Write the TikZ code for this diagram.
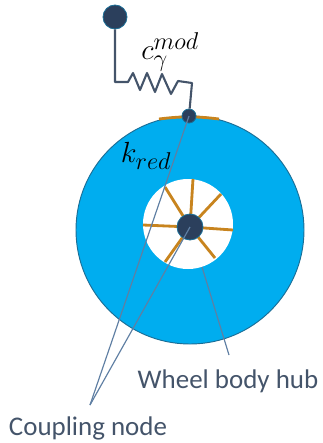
\documentclass[tikz,border=0pt]{standalone}
\usepackage{fontspec}
\setmainfont{Carlito}
\definecolor{wheelblue}{HTML}{00ADEF}
\definecolor{rimblue}{HTML}{1B6E96}
\definecolor{nodedark}{HTML}{2B3F5C}
\definecolor{spokeorange}{HTML}{C8841E}
\definecolor{leadergray}{HTML}{5F7FA3}
\definecolor{labelgray}{HTML}{44546A}
\begin{document}
\begin{tikzpicture}[x=0.03cm, y=-0.03cm, line width=1pt,
    dofnode/.style={circle, draw=rimblue, fill=nodedark, line width=0.7pt, inner sep=0pt},
    spoke/.style={draw=spokeorange, line width=2.4pt},
    leader/.style={draw=leadergray, line width=1pt},
    wirelabel/.style={text=labelgray, font=\fontsize{23pt}{25pt}\selectfont}]

    \useasboundingbox (0, 0) rectangle (322, 443);

    % ==========================================
    % 1. Wheel body and hub opening
    % ==========================================
    \node[circle, draw=rimblue, fill=wheelblue, line width=0.8pt, minimum size=6.84cm, inner sep=0pt] (wheel) at (190, 230) {};
    \node[circle, fill=white, minimum size=2.7cm, inner sep=0pt] (hubhole) at (188, 224) {};

    % ==========================================
    % 2. Spokes and patch on the rim
    % ==========================================
    \coordinate (hubcentre) at (190, 227);
    \foreach \sx / \sy in {193/179, 221/194, 233/230, 215/258, 165/262, 143/225, 165/187}{
        \draw[spoke] (hubcentre) -- (\sx, \sy);
    }
    \draw[spoke] (159, 119) to[bend left=7] (219, 119);

    % ==========================================
    % 3. Leader lines
    % ==========================================
    \coordinate (couplingtip) at (90, 405);
    \coordinate (hubtip) at (229, 355);
    \coordinate (hubedge) at (202, 267);
    \node[dofnode, minimum size=0.78cm] (hubnode) at (hubcentre) {};
    \node[dofnode, minimum size=0.42cm] (rimnode) at (189, 116) {};
    \draw[leader] (couplingtip) -- (rimnode.center);
    \draw[leader] (couplingtip) -- (hubnode.center);
    \draw[leader] (hubtip) -- (hubedge);

    % ==========================================
    % 4. Spring with the fixed node
    % ==========================================
    \node[dofnode, minimum size=0.72cm] (fixnode) at (115, 17) {};
    \draw[draw=labelgray, line width=1.8pt, line join=round] (fixnode) -- (115, 82) -- (128, 82) -- (133, 73) -- (140, 90) -- (147, 73) -- (155, 92) -- (162, 74) -- (171, 94) -- (178, 81) -- (192, 83) -- (rimnode);

    % ==========================================
    % 5. Labels
    % ==========================================
    \node[font=\fontsize{29pt}{31pt}\selectfont] (springlabel) at (170, 52) {$c_{\gamma}^{mod}$};
    \node[font=\fontsize{29pt}{31pt}\selectfont] (stifflabel) at (146, 156) {$k_{red}$};
    \node[wirelabel] (hublabel) at (228, 381) {Wheel body hub};
    \node[wirelabel] (couplinglabel) at (88, 428) {Coupling node};

\end{tikzpicture}
\end{document}
